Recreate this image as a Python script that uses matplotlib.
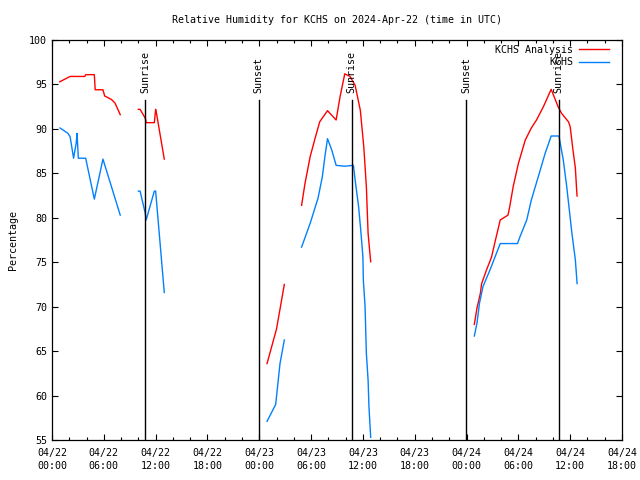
import numpy as np
import matplotlib
matplotlib.use('Agg')
import matplotlib.pyplot as plt

nan = np.nan

# hours after 2024-04-22 00:00 UTC; nan marks gaps in the record
analysis_hours = [0.9, 2.1, 3.8, 3.9, 4.9, 5.0, 5.9, 6.1, 6.9, 7.3, 7.9, 9.0,
                  10.0, 10.2, 10.8, 10.9, 11.85, 12.0, 12.1, 13.0, 18.0,
                  24.9, 26.0, 26.9, 28.0,
                  28.9, 29.3, 29.9, 30.45, 31.0, 31.9, 32.9, 33.35, 33.9, 34.5,
                  35.1, 35.7, 36.1, 36.4, 36.6, 36.9, 42.0,
                  48.9, 49.2, 49.6, 49.75, 50.3, 50.9, 51.3, 51.9, 52.8, 53.0,
                  53.4, 54.0, 54.8, 55.5, 56.1, 56.9, 57.8, 58.6, 59.0, 59.8,
                  60.0, 60.3, 60.6, 60.75, 60.8]
analysis_rh = [95.3, 95.9, 95.9, 96.1, 96.1, 94.4, 94.4, 93.7, 93.3, 92.9, 91.6, nan,
               92.2, 92.2, 91.2, 90.7, 90.7, 92.2, 91.75, 86.6, nan,
               63.6, 67.5, 72.5, nan,
               81.4, 83.9, 86.9, 88.9, 90.8, 92.05, 91.0, 93.6, 96.2, 95.9,
               94.9, 92.1, 88.0, 83.5, 78.25, 75.05, nan,
               68.0, 69.8, 71.5, 72.6, 74.1, 75.6, 77.3, 79.75, 80.3, 81.25,
               83.5, 86.1, 88.75, 90.1, 91.0, 92.5, 94.45, 92.5, 91.75, 90.8,
               90.25, 87.8, 85.6, 83.1, 82.45]

obs_hours = [0.93, 1.85, 2.1, 2.5, 2.8, 2.9, 3.05, 3.9, 4.9, 5.9, 7.9, 9.0,
             10.0, 10.2, 10.8, 10.9, 11.85, 12.0, 13.0, 18.0,
             24.9, 25.9, 26.4, 26.9, 28.0,
             28.9, 29.9, 30.8, 31.3, 31.6, 31.9, 32.4, 32.9, 33.9, 34.9,
             35.1, 35.3, 35.5, 35.75, 36.0, 36.05, 36.25, 36.4, 36.6, 36.7, 36.9, 42.0,
             48.9, 49.2, 49.5, 49.9, 50.7, 51.9, 53.9, 54.2, 54.97, 55.5,
             56.3, 57.1, 57.8, 58.7, 59.2, 59.6, 60.2, 60.6, 60.8]
obs_rh = [90.1, 89.5, 89.1, 86.7, 88.4, 89.5, 86.7, 86.7, 82.1, 86.6, 80.3, nan,
          83.0, 83.0, 80.5, 79.75, 83.0, 83.0, 71.6, nan,
          57.1, 59.0, 63.6, 66.25, nan,
          76.7, 79.4, 82.2, 84.6, 86.9, 88.9, 87.6, 85.9, 85.8, 85.9,
          84.25, 82.75, 81.25, 78.6, 75.6, 73.0, 70.0, 64.75, 61.75, 58.75, 55.3, nan,
          66.7, 68.1, 70.4, 72.25, 74.1, 77.1, 77.1, 77.9, 79.75, 82.0,
          84.6, 87.25, 89.2, 89.2, 86.5, 83.5, 78.25, 75.25, 72.6]

event_hours = [10.8, 23.93, 34.7, 47.93, 58.65]
event_names = ['Sunrise', 'Sunset', 'Sunrise', 'Sunset', 'Sunrise']

tick_hours = list(range(0, 67, 6))
tick_labels = ['04/22\n00:00', '04/22\n06:00', '04/22\n12:00', '04/22\n18:00',
               '04/23\n00:00', '04/23\n06:00', '04/23\n12:00', '04/23\n18:00',
               '04/24\n00:00', '04/24\n06:00', '04/24\n12:00', '04/24\n18:00']

plt.rcParams['font.family'] = ['DejaVu Sans Mono']
fs = 7.2

fig = plt.figure(figsize=(6.4, 4.8), dpi=100)
ax = fig.add_axes([52 / 640, 40 / 480, 570 / 640, 400 / 480])

ax.plot(analysis_hours, analysis_rh, color='#ff0000', lw=1.0, label='KCHS Analysis')
ax.plot(obs_hours, obs_rh, color='#0080ff', lw=1.0, label='KCHS')

for h, name in zip(event_hours, event_names):
    ax.plot([h, h], [55, 93.3], color='black', lw=1.0)
    ax.text(h, 94.0, name, rotation=90, ha='center', va='bottom', fontsize=fs)

ax.set_xlim(0, 66)
ax.set_ylim(55, 100)
ax.set_xticks(tick_hours)
ax.set_xticklabels(tick_labels, fontsize=fs, linespacing=1.3)
ax.set_xticks(range(0, 67, 2), minor=True)
ax.set_yticks(range(55, 101, 5))
ax.tick_params(axis='y', labelsize=fs)
ax.tick_params(which='both', direction='in', top=True, right=True, width=0.8)
ax.tick_params(which='major', length=4)
ax.tick_params(which='minor', length=2)
ax.tick_params(axis='x', pad=6)
for s in ax.spines.values():
    s.set_linewidth(0.9)

ax.set_ylabel('Percentage', fontsize=fs, labelpad=8)
ax.set_title('Relative Humidity for KCHS on 2024-Apr-22 (time in UTC)', fontsize=fs, pad=12)

ax.legend(loc='upper right', bbox_to_anchor=(0.9825, 0.995), frameon=False,
          fontsize=fs, markerfirst=False, handlelength=3.0, handletextpad=0.6,
          labelspacing=0.25, borderaxespad=0.2, borderpad=0.1)

fig.savefig('out.png', dpi=100)
